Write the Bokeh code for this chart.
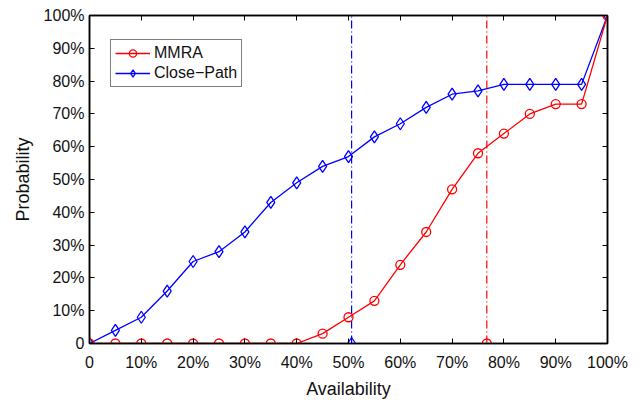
from bokeh.plotting import figure
from bokeh.models import LinearAxis, Range1d, FixedTicker, Legend, LegendItem, CustomJSTickFormatter
from bokeh.embed import file_html
from bokeh.resources import INLINE

availability = [0, 5, 10, 15, 20, 25, 30, 35, 40, 45, 50, 55, 60, 65, 70, 75, 80, 85, 90, 95, 100]
mmra = [0, 0, 0, 0, 0, 0, 0, 0, 0, 3, 8, 13, 24, 34, 47, 58, 64, 70, 73, 73, 100]
close_path = [0, 4, 8, 16, 25, 28, 34, 43, 49, 54, 57, 63, 67, 72, 76, 77, 79, 79, 79, 79, 100]
mmra_threshold = 76.7
close_path_threshold = 50.6
tick_values = [0, 10, 20, 30, 40, 50, 60, 70, 80, 90, 100]

FONT = "Liberation Sans"

p = figure(width=644, height=402, output_backend="svg", toolbar_location=None,
           x_range=Range1d(0, 100), y_range=Range1d(0, 100),
           min_border_left=89, min_border_right=37, min_border_top=15, min_border_bottom=59)
p.grid.visible = False
p.outline_line_color = "black"
p.outline_line_width = 1.5
p.background_fill_color = "white"
p.border_fill_color = "white"

fmt = CustomJSTickFormatter(code="return tick == 0 ? '0' : tick.toFixed(0) + '%';")
blank = CustomJSTickFormatter(code="return '';")

for ax in (p.xaxis[0], p.yaxis[0]):
    ax.ticker = FixedTicker(ticks=tick_values)
    ax.formatter = fmt
    ax.major_tick_in = 5
    ax.major_tick_out = 0
    ax.minor_tick_line_color = None
    ax.axis_line_color = "black"
    ax.axis_line_width = 1.5
    ax.major_tick_line_width = 1
    ax.major_label_text_font = FONT
    ax.major_label_text_font_size = "16px"
    ax.major_label_text_color = "#111111"
    ax.axis_label_text_font = FONT
    ax.axis_label_text_font_size = "18px"
    ax.axis_label_text_font_style = "normal"
    ax.axis_label_text_color = "#111111"

p.xaxis[0].axis_label = "Availability"
p.yaxis[0].axis_label = "Probability"
p.xaxis[0].major_label_standoff = 10
p.yaxis[0].major_label_standoff = 5
p.xaxis[0].axis_label_standoff = 5
p.yaxis[0].axis_label_standoff = 8

right = LinearAxis(ticker=FixedTicker(ticks=tick_values), formatter=blank,
                   major_tick_in=5, major_tick_out=0, minor_tick_line_color=None,
                   axis_line_color="black", axis_line_width=1.5, major_label_standoff=0)
top = LinearAxis(ticker=FixedTicker(ticks=tick_values), formatter=blank,
                 major_tick_in=5, major_tick_out=0, minor_tick_line_color=None,
                 axis_line_color="black", axis_line_width=1.5, major_label_standoff=0)
p.add_layout(right, "right")
p.add_layout(top, "above")

RED = "#ff0000"
BLUE = "#0000ff"

# threshold lines
p.line([close_path_threshold, close_path_threshold], [0, 100], line_color=BLUE, line_width=1.2, line_dash="8 3 1 3")
p.line([mmra_threshold, mmra_threshold], [0, 100], line_color=RED, line_width=1.2, line_dash="8 3 1 3")
p.scatter([close_path_threshold], [0], marker="diamond", size=12, fill_color=None, line_color=BLUE, line_width=1.3)
p.scatter([mmra_threshold], [0], marker="circle", size=9, fill_color=None, line_color=RED, line_width=1.3)

bl = p.line(availability, close_path, line_color=BLUE, line_width=1.3)
bs = p.scatter(availability, close_path, marker="diamond", size=12, fill_color=None, line_color=BLUE, line_width=1.3)
rl = p.line(availability, mmra, line_color=RED, line_width=1.3)
rs = p.scatter(availability, mmra, marker="circle", size=9, fill_color=None, line_color=RED, line_width=1.3)

legend = Legend(items=[LegendItem(label="MMRA", renderers=[rl, rs]),
                       LegendItem(label="Close\u2212Path", renderers=[bl, bs])],
                location=(21, 256), border_line_color="black", border_line_width=1.3,
                label_text_font=FONT, label_text_font_size="16px", label_text_color="#111111",
                glyph_width=35, glyph_height=18, label_standoff=4, padding=4, spacing=2,
                margin=0, background_fill_alpha=1)
p.add_layout(legend, "center")

open("out.html", "w").write(file_html(p, INLINE))
